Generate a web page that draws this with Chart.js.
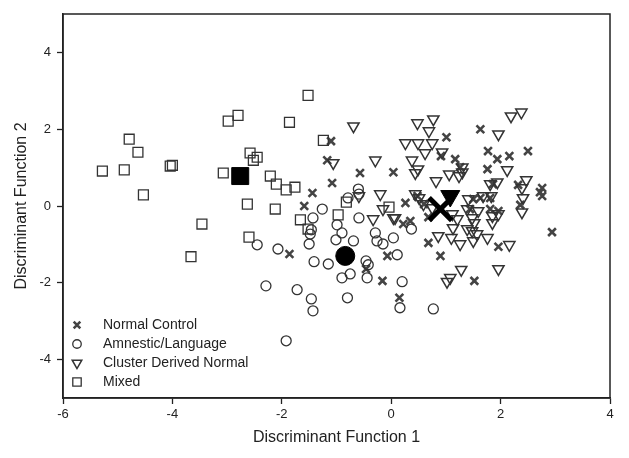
<!DOCTYPE html>
<html>
<head>
    <title>Discriminant Function Scatter</title>
    <script src="https://cdn.jsdelivr.net/npm/chart.js"></script>
    <style>
        body { margin: 0; background: #fff; }
        #wrap { width: 629px; height: 458px; }
    </style>
</head>
<body>
    <div id="wrap"><canvas id="dfChart" width="629" height="458"></canvas></div>

    <script>
        // Group labels
        const groupLabels = ["Normal Control", "Amnestic/Language", "Cluster Derived Normal", "Mixed"];

        // Normal Control (x = function 1, y = function 2)
        const normalX = [-1.10, -1.17, -1.08, -1.44, -1.59, -1.86, -0.57, 0.04, 1.01, 1.63, 0.91, 1.17, 1.26, 1.77, 1.94, 2.16, 2.50, 1.76,
                         1.86, 1.81, 1.96, 2.32, 2.76, 2.76, 2.72, 2.94, 1.96, 0.26, 0.35, 0.22, 0.68, 0.90, 1.50, 1.44, 1.63, 1.81, 0.48, 0.68,
                         -0.16, -0.07, -0.46, 0.15, 1.52, 2.36, 0.60];
        const normalY = [1.69, 1.19, 0.60, 0.34, 0.00, -1.25, 0.86, 0.88, 1.79, 2.00, 1.30, 1.22, 1.01, 1.43, 1.22, 1.30, 1.43, 0.96,
                         0.57, 0.21, -0.13, 0.55, 0.47, 0.26, 0.36, -0.68, -1.06, 0.08, -0.39, -0.47, -0.96, -1.30, 0.18, -0.08, 0.21, -0.08, 0.26, -0.29,
                         -1.95, -1.30, -1.64, -2.39, -1.95, 0.03, 0.05];

        // Amnestic/Language
        const amnesticX = [-2.45, -2.07, -2.29, -1.72, -1.46, -1.43, -1.92, -1.26, -1.43, -1.46, -1.48, -1.50, -1.41, -1.15,
                           -0.99, -1.01, -0.90, -0.69, -0.75, -0.90, -0.80, -0.60, -0.59, -0.79, -0.59,
                           -0.46, -0.42, -0.44, -0.29, -0.26, -0.15, 0.04, 0.11, 0.37, 0.20, 0.16, 0.77];
        const amnesticY = [-1.01, -1.12, -2.08, -2.18, -2.42, -2.73, -3.51, -0.08, -0.31, -0.62, -0.73, -0.99, -1.45, -1.51,
                           -0.49, -0.88, -0.70, -0.91, -1.77, -1.87, -2.39, 0.44, 0.31, 0.21, -0.31,
                           -1.43, -1.53, -1.87, -0.70, -0.91, -0.99, -0.83, -1.27, -0.60, -1.97, -2.65, -2.68];

        // Cluster Derived Normal
        const clusterX = [-1.06, -0.69, -0.29, -0.20, -0.59, -0.33, -0.15, 0.07, 0.48, 0.77, 0.69, 0.26, 0.49, 0.75, 0.62, 0.93, 0.38, 0.49, 0.44,
                          1.06, 1.30, 1.30, 1.96, 2.19, 2.38, 2.12, 2.47, 0.82, 1.24, 1.81, 1.94, 1.41, 1.68, 1.83, 2.39, 2.41, 2.39,
                          0.04, 0.51, 0.59, 0.75, 0.44, 1.12, 1.39, 1.48, 1.59, 1.85, 1.96, 1.85,
                          0.86, 1.10, 1.26, 1.50, 1.57, 1.39, 1.52, 1.13, 1.21, 1.76, 2.16, 1.96, 1.28, 1.08, 1.02, 1.48];
        const clusterY = [1.12, 2.08, 1.19, 0.31, 0.26, -0.34, -0.08, -0.31, 2.16, 2.26, 1.95, 1.64, 1.64, 1.64, 1.38, 1.40, 1.19, 0.96, 0.86,
                          0.83, 1.01, 0.88, 1.87, 2.34, 2.44, 0.94, 0.68, 0.65, 0.78, 0.57, 0.62, 0.18, 0.26, 0.26, 0.47, 0.21, -0.16,
                          -0.31, 0.21, 0.05, -0.05, 0.31, -0.21, -0.08, -0.31, -0.13, -0.44, -0.21, -0.26,
                          -0.78, -0.83, -0.99, -0.91, -0.73, -0.60, -0.44, -0.57, -0.34, -0.83, -1.01, -1.64, -1.66, -1.87, -1.97, -0.65];

        // Mixed
        const mixedX = [-5.28, -4.88, -4.79, -4.63, -4.53, -4.04, -4.00, -3.66, -3.46, -3.07, -2.98, -2.80, -2.58, -2.45, -2.52,
                        -2.63, -2.60, -2.21, -2.10, -1.92, -1.76, -2.12, -1.86, -1.52, -1.24, -1.66, -1.52, -0.82, -0.97, -0.04];
        const mixedY = [0.91, 0.94, 1.74, 1.40, 0.29, 1.04, 1.06, -1.32, -0.47, 0.86, 2.21, 2.36, 1.38, 1.27, 1.19,
                        0.05, -0.81, 0.78, 0.57, 0.42, 0.49, -0.08, 2.18, 2.88, 1.71, -0.36, -0.60, 0.10, -0.23, -0.03];

        // Group centroids (same order as groupLabels)
        const centroidX = [0.90, -0.84, 1.08, -2.76];
        const centroidY = [-0.08, -1.30, 0.26, 0.78];

        // Tick labels
        const xTicks = [-6, -4, -2, 0, 2, 4];
        const yTicks = [-4, -2, 0, 2, 4];

        const toPoints = (xs, ys) => xs.map((x, i) => ({ x: x, y: ys[i] }));

        const ink = "#333";
        const groupStyles = [
            { pointStyle: "crossRot", rotation: 0, radius: 5.5, borderWidth: 2.6, color: "#444" },
            { pointStyle: "circle", rotation: 0, radius: 5, borderWidth: 1.3, color: ink },
            { pointStyle: "triangle", rotation: 180, radius: 6.5, borderWidth: 1.5, color: ink },
            { pointStyle: "rect", rotation: 0, radius: 7, borderWidth: 1.3, color: ink }
        ];
        const groupData = [
            toPoints(normalX, normalY),
            toPoints(amnesticX, amnesticY),
            toPoints(clusterX, clusterY),
            toPoints(mixedX, mixedY)
        ];

        const datasets = groupLabels.map((label, i) => ({
            label: label,
            data: groupData[i],
            pointStyle: groupStyles[i].pointStyle,
            rotation: groupStyles[i].rotation,
            pointRadius: groupStyles[i].radius,
            borderWidth: groupStyles[i].borderWidth,
            borderColor: groupStyles[i].color,
            backgroundColor: "rgba(255,255,255,0)",
            order: 4 - i
        }));

        // Centroids drawn on top, filled black
        datasets.push({
            label: "Centroids",
            data: toPoints(centroidX, centroidY),
            pointStyle: ["crossRot", "circle", "triangle", "rect"],
            rotation: [0, 0, 180, 0],
            pointRadius: [16, 9.5, 11, 12],
            borderWidth: [5, 1, 1, 1],
            borderColor: "#000",
            backgroundColor: "#000",
            order: 0
        });

        // Box around plot area
        const framePlugin = {
            id: "frame",
            afterDatasetsDraw(chart) {
                const a = chart.chartArea;
                const c = chart.ctx;
                c.save();
                c.strokeStyle = "#222";
                c.lineWidth = 1.5;
                c.strokeRect(a.left, a.top, a.right - a.left, a.bottom - a.top);
                c.restore();
            }
        };

        // Legend in lower left of plot
        const legendPlugin = {
            id: "innerLegend",
            afterDraw(chart) {
                const c = chart.ctx;
                c.save();
                c.font = "14px 'Liberation Sans', Arial, sans-serif";
                c.textBaseline = "middle";
                c.textAlign = "left";
                groupLabels.forEach((label, i) => {
                    const y = 325 + i * 19;
                    const s = groupStyles[i];
                    c.strokeStyle = s.color;
                    c.fillStyle = "rgba(255,255,255,0)";
                    c.lineWidth = s.borderWidth;
                    Chart.helpers.drawPoint(c, {
                        pointStyle: s.pointStyle,
                        rotation: s.rotation,
                        radius: s.radius * 0.85,
                        borderWidth: s.borderWidth
                    }, 77, y);
                    c.fillStyle = "#222";
                    c.fillText(label, 103, y);
                });
                c.restore();
            }
        };

        const ctx = document.getElementById("dfChart").getContext("2d");

        new Chart(ctx, {
            type: "scatter",
            data: { datasets: datasets },
            options: {
                responsive: false,
                animation: false,
                events: [],
                layout: { autoPadding: false, padding: { left: 0, right: 19, top: 14, bottom: 0 } },
                plugins: {
                    legend: { display: false },
                    tooltip: { enabled: false }
                },
                scales: {
                    x: {
                        type: "linear",
                        min: -6,
                        max: 4,
                        afterBuildTicks: (scale) => { scale.ticks = xTicks.map(v => ({ value: v })); },
                        afterFit: (scale) => { scale.height = 60; },
                        ticks: {
                            color: "#222",
                            font: { size: 13, family: "'Liberation Sans', Arial, sans-serif" },
                            padding: 3,
                            maxRotation: 0
                        },
                        grid: { drawOnChartArea: false, tickLength: 6, tickColor: "#222", tickWidth: 1.3 },
                        border: { display: true, color: "#222", width: 1.5 },
                        title: {
                            display: true,
                            text: "Discriminant Function 1",
                            color: "#222",
                            font: { size: 16, family: "'Liberation Sans', Arial, sans-serif" },
                            padding: { top: 0, bottom: 11 }
                        }
                    },
                    y: {
                        type: "linear",
                        min: -5,
                        max: 5,
                        afterBuildTicks: (scale) => { scale.ticks = yTicks.map(v => ({ value: v })); },
                        afterFit: (scale) => { scale.width = 63; },
                        ticks: {
                            color: "#222",
                            font: { size: 13, family: "'Liberation Sans', Arial, sans-serif" },
                            padding: 6
                        },
                        grid: { drawOnChartArea: false, tickLength: 6, tickColor: "#222", tickWidth: 1.3 },
                        border: { display: true, color: "#222", width: 1.5 },
                        title: {
                            display: true,
                            text: "Discriminant Function 2",
                            color: "#222",
                            font: { size: 16, family: "'Liberation Sans', Arial, sans-serif" },
                            padding: { top: 12, bottom: 0 }
                        }
                    }
                }
            },
            plugins: [framePlugin, legendPlugin]
        });
    </script>
</body>
</html>
